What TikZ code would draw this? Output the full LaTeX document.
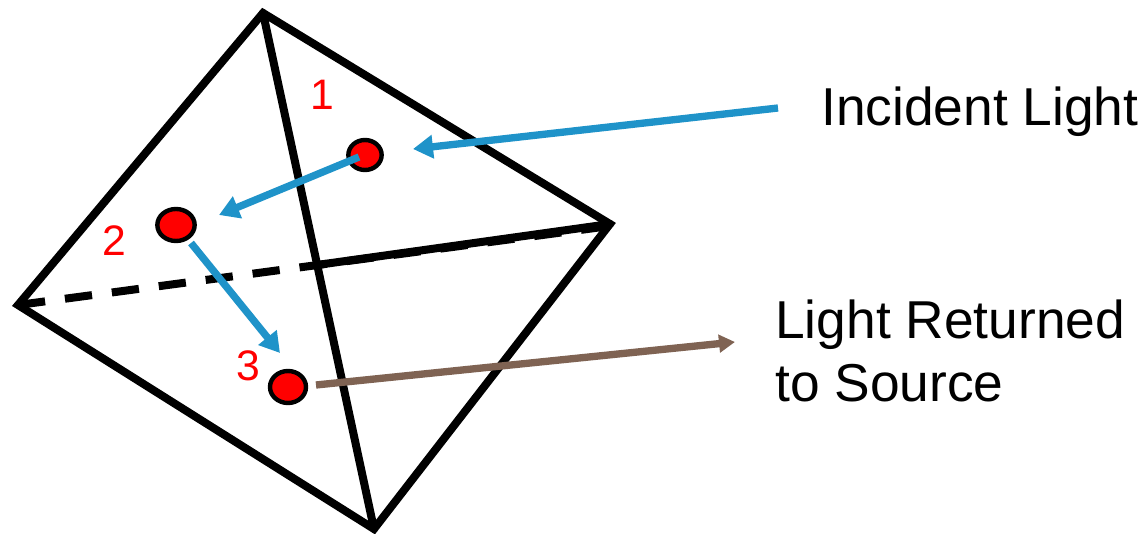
\documentclass[tikz,border=0pt]{standalone}
\usepackage{fontspec}
\setmainfont{Liberation Sans}
\usetikzlibrary{arrows.meta,shapes.geometric}
\definecolor{rayblue}{HTML}{1F93C9}
\definecolor{raybrown}{HTML}{7F6353}
\tikzset{
  edge/.style={line width=6pt,line cap=round,line join=miter},
  hidden/.style={line width=6pt,dash pattern=on 20.5pt off 15pt},
  dotmark/.style={draw=black,fill=red,line width=3.3pt,ellipse,inner sep=0pt},
  ray/.style={line width=5.5pt,color=rayblue,-{Triangle[length=15pt,width=17pt]}},
  returned/.style={line width=5.5pt,color=raybrown,-{Triangle[length=12pt,width=13pt]}},
  num/.style={text=red,font=\fontsize{32}{32}\selectfont,anchor=base},
  lab/.style={font=\fontsize{40}{48}\selectfont,anchor=base west,inner sep=0pt}
}
\begin{document}
\begin{tikzpicture}[x=0.75pt,y=-0.75pt]
\useasboundingbox (0,0) rectangle (1143,534);
\coordinate (T) at (263,13);
\coordinate (R) at (610,224);
\coordinate (B) at (374,529);
\coordinate (L) at (18,305);
\coordinate (M) at (317,265);
\draw[hidden] (L) -- ([yshift=-1.5pt]R);
\draw[edge] (M) -- (R);
\draw[edge] (T) -- (R) -- (B) -- (L) -- cycle;
\draw[edge] (T) -- (B);
\node[dotmark,minimum width=25pt,minimum height=22.5pt] (d1) at (365,155) {};
\node[dotmark,minimum width=28pt,minimum height=24pt] (d2) at (176,225) {};
\node[dotmark,minimum width=27pt,minimum height=24pt] (d3) at (288,387) {};
\coordinate (inStart) at (778,108);
\coordinate (inEnd) at (413,149);
\coordinate (outEnd) at (735,342);
\draw[ray] (inStart) -- (inEnd);
\draw[ray] ([shift={(-6,2)}]d1.center) -- ([shift={(43,-10)}]d2.center);
\draw[ray] ([shift={(15,18)}]d2.center) -- ([shift={(-8,-34)}]d3.center);
\draw[returned] ([shift={(28,-2)}]d3.center) -- (outEnd);
\node[num] (n1) at (322,110) {1};
\node[num] (n2) at (114,256) {2};
\node[num] (n3) at (248,381) {3};
\node[lab] (t1) at (821,126) {Incident Light};
\node[lab] (t2) at (775,339) {Light Returned};
\node[lab] (t3) at (775,402) {to Source};
\end{tikzpicture}
\end{document}
